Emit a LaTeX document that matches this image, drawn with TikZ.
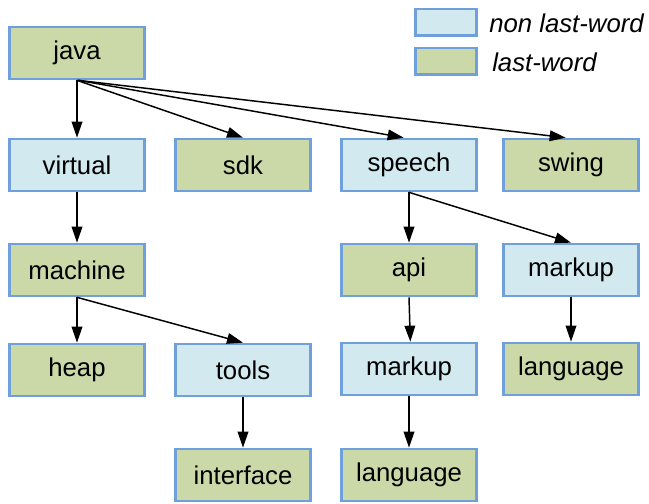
\documentclass[tikz,border=0pt]{standalone}
\usepackage{fontspec}
\setmainfont{Liberation Sans}
\usetikzlibrary{arrows.meta}
\definecolor{bordc}{HTML}{6FA0DC}
\definecolor{greenf}{HTML}{CBD9A9}
\definecolor{bluef}{HTML}{D2E9EF}
\tikzset{
  box/.style={draw=bordc, line width=2pt, minimum width=101pt, minimum height=39pt, inner sep=0pt, font=\fontsize{19.3}{21}\selectfont},
  lastw/.style={box, fill=greenf},
  nonlast/.style={box, fill=bluef},
  legbox/.style={draw=bordc, line width=2pt, minimum width=46pt, minimum height=20pt, inner sep=0pt},
  legtext/.style={anchor=west, inner sep=0pt, font=\fontsize{19.3}{21}\selectfont\itshape},
  conn/.style={-{Triangle[length=12pt,width=8pt]}, line width=1.1pt, black}
}
\begin{document}
\begin{tikzpicture}[x=0.75pt,y=-0.75pt]
\useasboundingbox (0,0) rectangle (649,503);
\node[lastw] (java) at (77,53) {java};
\node[nonlast] (virtual) at (77,165) {virtual};
\node[lastw] (sdk) at (243,165) {sdk};
\node[nonlast] (speech) at (409,165) {speech};
\node[lastw] (swing) at (571,165) {swing};
\node[lastw] (machine) at (77,270) {machine};
\node[lastw] (api) at (409,270) {api};
\node[nonlast] (markupR) at (571,270) {markup};
\node[lastw] (heap) at (77,370) {heap};
\node[nonlast] (tools) at (243,370) {tools};
\node[nonlast] (markupM) at (409,369) {markup};
\node[lastw] (langR) at (571,369) {language};
\node[lastw] (interface) at (243,475) {interface};
\node[lastw] (langM) at (409,475) {language};
\node[legbox, fill=bluef] (lb1) at (446,22.5) {};
\node[legbox, fill=greenf] (lb2) at (446,61.5) {};
\node[legtext] (lt1) at (489,23) {non last-word};
\node[legtext] (lt2) at (492,62) {last-word};
\draw[conn] (java.south) -- (virtual.north);
\draw[conn] (java.south) -- (sdk.north);
\draw[conn] ([xshift=1pt]java.south) -- ([xshift=-4pt]speech.north);
\draw[conn] ([xshift=1pt]java.south) -- ([xshift=-4pt]swing.north);
\draw[conn] (virtual.south) -- (machine.north);
\draw[conn] (machine.south) -- (heap.north);
\draw[conn] (machine.south) -- (tools.north);
\draw[conn] (tools.south) -- (interface.north);
\draw[conn] (speech.south) -- (api.north);
\draw[conn] (speech.south) -- (markupR.north);
\draw[conn] (api.south) -- ([xshift=1pt]markupM.north);
\draw[conn] (markupM.south) -- (langM.north);
\draw[conn] (markupR.south) -- (langR.north);
\end{tikzpicture}
\end{document}
